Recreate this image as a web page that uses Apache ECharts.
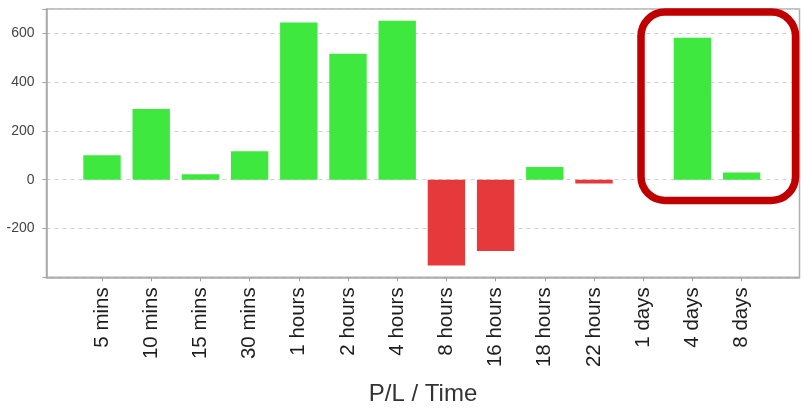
<!DOCTYPE html>
<html>
<head>
<meta charset="utf-8">
<script src="https://cdn.jsdelivr.net/npm/echarts@6/dist/echarts.min.js"></script>
<style>
html,body{margin:0;padding:0;background:#fff;}
#chart{width:804px;height:410px;}
</style>
</head>
<body>
<div id="chart"></div>
<script>
var categories = ['5 mins','10 mins','15 mins','30 mins','1 hours','2 hours','4 hours','8 hours','16 hours','18 hours','22 hours','1 days','4 days','8 days'];
var plValues = [100, 290, 22, 117, 645, 517, 652, -352, -292, 52, -15, 0, 582, 30];
var yTicks = [-200, 0, 200, 400, 600];
var yMin = -400, yMax = 700, yStep = 200;
var xTitle = 'P/L / Time';

var FONT = '"Liberation Sans", Arial, sans-serif';
var chart = echarts.init(document.getElementById('chart'), null, {renderer: 'canvas'});

var option = {
  backgroundColor: '#ffffff',
  animation: false,
  grid: [
    {left: 46.5, right: 4.5, top: 9, bottom: 132.7, show: true, borderColor: '#b0b0b0', borderWidth: 1.5, containLabel: false, outerBoundsMode: 'none'},
    {left: 77.4, right: 37.8, top: 9, bottom: 132.7, containLabel: false, outerBoundsMode: 'none'}
  ],
  xAxis: [
    {
      gridIndex: 0, type: 'value', min: 0, max: 1,
      axisLine: {show: true, onZero: false, lineStyle: {color: '#a8a8a8', width: 1.5}},
      axisTick: {show: false}, axisLabel: {show: false}, splitLine: {show: false},
      name: xTitle, nameLocation: 'middle', nameGap: 105,
      nameTextStyle: {fontFamily: FONT, fontSize: 24, color: '#333'}
    },
    {
      gridIndex: 1, type: 'category', data: categories, position: 'bottom',
      axisLine: {show: false, onZero: false},
      axisTick: {show: true, alignWithLabel: true, length: 4, lineStyle: {color: '#a0a0a0', width: 1}},
      axisLabel: {rotate: 90, margin: 10, fontFamily: FONT, fontSize: 20.5, color: '#1e1e1e', interval: 0},
      splitLine: {show: false}
    }
  ],
  yAxis: [
    {
      gridIndex: 0, type: 'value', min: yMin, max: yMax, interval: yStep,
      axisLine: {show: true, onZero: false, lineStyle: {color: '#a8a8a8', width: 1.5}},
      axisTick: {show: true, length: 4, lineStyle: {color: '#a0a0a0', width: 1}},
      axisLabel: {
        margin: 12, fontFamily: FONT, fontSize: 14, color: '#444',
        formatter: function (v) { return yTicks.indexOf(v) >= 0 ? String(v) : ''; }
      },
      splitLine: {show: true, lineStyle: {color: '#cfcfcf', type: [4, 4], width: 1}}
    },
    {
      gridIndex: 1, type: 'value', min: yMin, max: yMax, interval: yStep,
      axisLine: {show: false, onZero: false}, axisTick: {show: false}, axisLabel: {show: false}, splitLine: {show: false}
    }
  ],
  series: [{
    type: 'bar',
    xAxisIndex: 1, yAxisIndex: 1,
    data: plValues,
    barWidth: '76%',
    itemStyle: {
      color: function (p) { return p.value < 0 ? '#e6393c' : '#3fe83e'; }
    }
  }],
  graphic: [{
    type: 'rect',
    shape: {x: 641, y: 12, width: 154.5, height: 188.5, r: 24},
    style: {fill: 'none', stroke: '#c00000', lineWidth: 7.5},
    z: 100
  }]
};
chart.setOption(option);
</script>
</body>
</html>
